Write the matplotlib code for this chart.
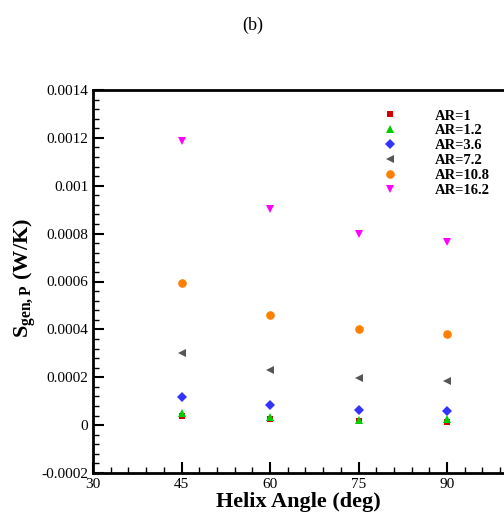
import matplotlib
matplotlib.use("Agg")
import matplotlib.pyplot as plt
from matplotlib.ticker import MultipleLocator

plt.rcParams['font.family'] = 'Liberation Serif'
plt.rcParams['mathtext.fontset'] = 'custom'
plt.rcParams['mathtext.rm'] = 'Liberation Serif'
plt.rcParams['mathtext.bf'] = 'Liberation Serif:bold'

angles = [45, 60, 75, 90]
labels = ['AR=1', 'AR=1.2', 'AR=3.6', 'AR=7.2', 'AR=10.8', 'AR=16.2']
ar1 = [0.000039, 0.000024, 0.000017, 0.000014]
ar12 = [0.000050, 0.000035, 0.000022, 0.000025]
ar36 = [0.000117, 0.000083, 0.000065, 0.000060]
ar72 = [0.000301, 0.000230, 0.000195, 0.000183]
ar108 = [0.000592, 0.000458, 0.000400, 0.000382]
ar162 = [0.001189, 0.000904, 0.000797, 0.000764]

series = [ar1, ar12, ar36, ar72, ar108, ar162]
markers = ['s', '^', 'D', '<', 'o', 'v']
colors = ['#d40000', '#00cc00', '#3333ff', '#555555', '#ff8000', '#ff00ff']
sizes = [5, 6, 5, 6, 6.2, 6]

fig = plt.figure(figsize=(5.04, 5.18), dpi=100)
ax = fig.add_axes([93 / 504, 45 / 518, 442.5 / 504, 383 / 518])

for y, m, c, s, lab in zip(series, markers, colors, sizes, labels):
    ax.plot(angles, y, linestyle='none', marker=m, color=c, markersize=s,
            markeredgewidth=0, label=lab)

ax.set_xlim(30, 105)
ax.set_ylim(-0.0002, 0.0014)
ax.set_xticks([30, 45, 60, 75, 90])
ax.xaxis.set_minor_locator(MultipleLocator(3))
ax.set_yticks([-0.0002, 0, 0.0002, 0.0004, 0.0006, 0.0008, 0.001, 0.0012, 0.0014])
ax.set_yticklabels(['-0.0002', '0', '0.0002', '0.0004', '0.0006', '0.0008',
                    '0.001', '0.0012', '0.0014'])
ax.yaxis.set_minor_locator(MultipleLocator(0.00004))
ax.tick_params(which='major', direction='in', length=8, width=1.5, labelsize=11)
ax.tick_params(which='minor', direction='in', length=4, width=1)
ax.spines['right'].set_visible(False)
for sp in ['left', 'bottom', 'top']:
    ax.spines[sp].set_linewidth(2)

ax.set_xlabel('Helix Angle (deg)', fontsize=16, fontweight='bold')
ax.xaxis.set_label_coords(0.463, -0.05)
ax.set_ylabel(r'$\mathbf{S}_{\mathbf{gen,P}}$ (W/K)', fontsize=16,
              fontweight='bold')
ax.yaxis.set_label_coords(-0.122, 0.51)

fig.text(253 / 504, 1 - 25 / 518, '(b)', fontsize=13, ha='center', va='center')

leg = ax.legend(loc='upper left', bbox_to_anchor=(375 / 504, 1 - 102 / 518),
                bbox_transform=fig.transFigure, frameon=False, borderpad=0,
                handlelength=1, handletextpad=2.6, labelspacing=0.12,
                prop={'family': 'Liberation Serif', 'weight': 'bold', 'size': 10.5})

fig.savefig('out.png', dpi=100)
